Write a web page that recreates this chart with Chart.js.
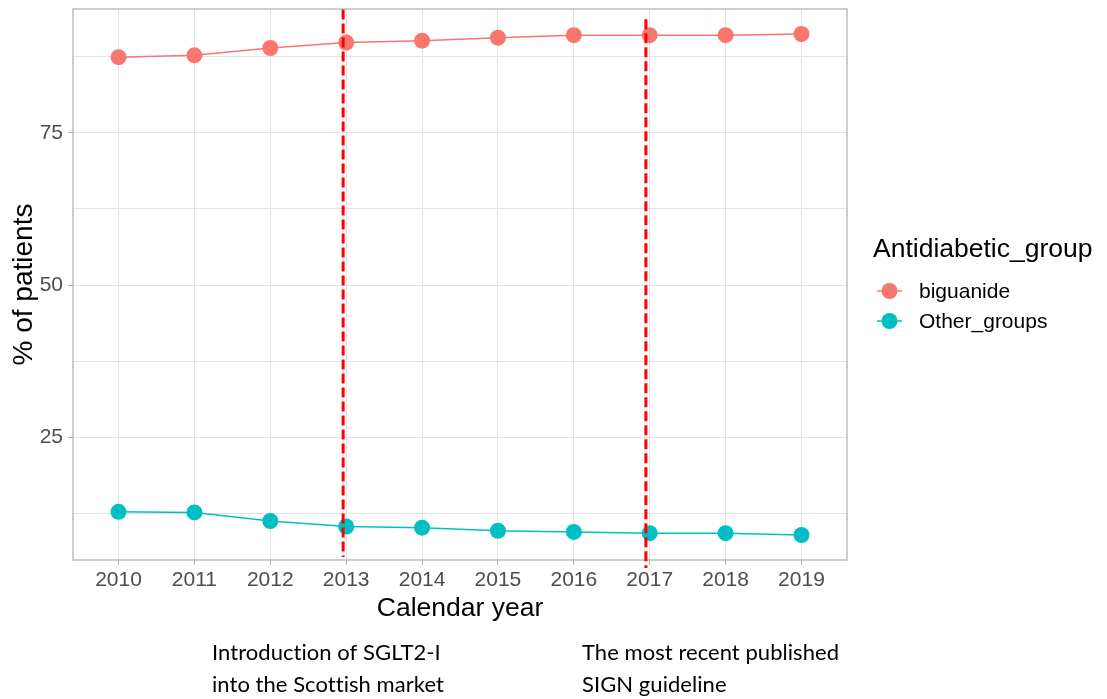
<!DOCTYPE html>
<html>
<head>
<meta charset="utf-8">
<script src="https://cdn.jsdelivr.net/npm/chart.js@4.4.1/dist/chart.umd.min.js"></script>
<style>
  html, body { margin: 0; padding: 0; background: #ffffff; }
  canvas { display: block; }
</style>
</head>
<body>
<canvas id="chart" width="1107" height="699"></canvas>
<script>
// Share of patients per antidiabetic group, by calendar year
const years = [2010, 2011, 2012, 2013, 2014, 2015, 2016, 2017, 2018, 2019];
const biguanide = [87.4, 87.7, 88.9, 89.8, 90.1, 90.6, 91.0, 91.0, 91.0, 91.2];
const otherGroups = [12.8, 12.7, 11.3, 10.4, 10.2, 9.7, 9.5, 9.3, 9.3, 9.0];

const groupNames = ["biguanide", "Other_groups"];
const groupColors = ["#F8766D", "#00BFC4"];

const xTickLabels = ["2010", "2011", "2012", "2013", "2014", "2015", "2016", "2017", "2018", "2019"];
const yTickLabels = ["25", "50", "75"];
const yMajorTicks = [25, 50, 75];
const yMinorTicks = [12.5, 37.5, 62.5, 87.5];

// Dashed reference lines for policy events (x position, vertical extent in % units)
const eventYears = [2012.96, 2016.95];
const eventTop = [95.2, 93.6];
const eventBottom = [5.4, 3.6];

const noteLines = [
  ["Introduction of SGLT2-I", "into the Scottish market"],
  ["The most recent published", "SIGN guideline"]
];

const FONT = "'Liberation Sans', Arial, Helvetica, sans-serif";

const panelBox = {
  id: "panelBox",
  afterDatasetsDraw(chart) {
    const { ctx, chartArea: a } = chart;
    ctx.save();
    ctx.strokeStyle = "#b3b3b3";
    ctx.lineWidth = 1.3;
    ctx.strokeRect(a.left, a.top, a.right - a.left, a.bottom - a.top);
    ctx.restore();
  }
};

const eventLines = {
  id: "eventLines",
  afterDraw(chart) {
    const { ctx, scales: { x, y } } = chart;
    ctx.save();
    ctx.strokeStyle = "#ff0000";
    ctx.lineWidth = 3;
    ctx.setLineDash([10, 4]);
    eventYears.forEach((yr, i) => {
      const px = x.getPixelForValue(yr);
      ctx.beginPath();
      ctx.moveTo(px, y.getPixelForValue(eventTop[i]));
      ctx.lineTo(px, y.getPixelForValue(eventBottom[i]));
      ctx.stroke();
    });
    ctx.restore();
  }
};

const groupLegend = {
  id: "groupLegend",
  afterDraw(chart) {
    const { ctx } = chart;
    ctx.save();
    ctx.fillStyle = "#000000";
    ctx.textBaseline = "alphabetic";
    ctx.textAlign = "left";
    ctx.font = "26.5px " + FONT;
    ctx.fillText("Antidiabetic_group", 873, 257);
    const rowY = [291, 321];
    groupNames.forEach((name, i) => {
      const cy = rowY[i];
      ctx.strokeStyle = groupColors[i];
      ctx.lineWidth = 1.5;
      ctx.beginPath();
      ctx.moveTo(877, cy);
      ctx.lineTo(902, cy);
      ctx.stroke();
      ctx.fillStyle = groupColors[i];
      ctx.beginPath();
      ctx.arc(889.5, cy, 8, 0, Math.PI * 2);
      ctx.fill();
      ctx.fillStyle = "#000000";
      ctx.font = "21px " + FONT;
      ctx.textBaseline = "middle";
      ctx.fillText(name, 919, cy + 1);
    });
    ctx.restore();
  }
};

const notes = {
  id: "notes",
  afterDraw(chart) {
    const { ctx } = chart;
    ctx.save();
    ctx.fillStyle = "#000000";
    ctx.font = "22px Lato, 'Open Sans', sans-serif";
    ctx.letterSpacing = "0.05px";
    ctx.textBaseline = "alphabetic";
    ctx.textAlign = "left";
    const noteX = [212, 582];
    const lineY = [660, 692];
    noteLines.forEach((lines, i) => {
      lines.forEach((t, j) => ctx.fillText(t, noteX[i], lineY[j]));
    });
    ctx.restore();
  }
};

const makeSeries = vals => years.map((yr, i) => ({ x: yr, y: vals[i] }));

new Chart(document.getElementById("chart"), {
  type: "line",
  data: {
    datasets: [
      {
        label: groupNames[0],
        data: makeSeries(biguanide),
        borderColor: groupColors[0],
        backgroundColor: groupColors[0],
        pointBackgroundColor: groupColors[0],
        pointBorderWidth: 0,
        pointRadius: 8,
        borderWidth: 1.5,
        tension: 0,
        fill: false
      },
      {
        label: groupNames[1],
        data: makeSeries(otherGroups),
        borderColor: groupColors[1],
        backgroundColor: groupColors[1],
        pointBackgroundColor: groupColors[1],
        pointBorderWidth: 0,
        pointRadius: 8,
        borderWidth: 1.5,
        tension: 0,
        fill: false
      }
    ]
  },
  options: {
    responsive: false,
    animation: false,
    devicePixelRatio: 1,
    layout: { padding: { left: 0, top: 9, right: 260, bottom: 0 } },
    plugins: {
      legend: { display: false },
      tooltip: { enabled: false }
    },
    scales: {
      x: {
        type: "linear",
        min: 2009.4,
        max: 2019.6,
        afterBuildTicks: s => { s.ticks = years.map(v => ({ value: v })); },
        afterFit: s => { s.height = 139; s.paddingLeft = 0; s.paddingRight = 0; },
        ticks: {
          callback: (v, i) => xTickLabels[i],
          color: "#4d4d4d",
          font: { family: FONT, size: 21 },
          padding: 3,
          maxRotation: 0,
          autoSkip: false
        },
        grid: {
          color: "#e2e2e2",
          lineWidth: 1,
          tickLength: 5,
          tickColor: "#b3b3b3"
        },
        border: { display: false },
        title: {
          display: true,
          text: "Calendar year",
          color: "#000000",
          font: { family: FONT, size: 26.5 },
          padding: { top: 0, bottom: 74 }
        }
      },
      y: {
        type: "linear",
        min: 4.9,
        max: 95.3,
        afterBuildTicks: s => {
          s.ticks = yMinorTicks.concat(yMajorTicks).sort((a, b) => a - b).map(v => ({ value: v }));
        },
        afterFit: s => { s.width = 73; s.paddingTop = 0; s.paddingBottom = 0; },
        ticks: {
          callback: (v, i, t) => {
            const k = yMajorTicks.indexOf(t[i].value);
            return k >= 0 ? yTickLabels[k] : "";
          },
          color: "#4d4d4d",
          font: { family: FONT, size: 21 },
          padding: 5,
          autoSkip: false
        },
        grid: {
          color: "#e2e2e2",
          lineWidth: 1,
          tickLength: 5,
          tickColor: ctx => (ctx.tick && yMajorTicks.includes(ctx.tick.value)) ? "#b3b3b3" : "rgba(0,0,0,0)"
        },
        border: { display: false },
        title: {
          display: true,
          text: "% of patients",
          color: "#000000",
          font: { family: FONT, size: 28 },
          padding: { top: 7, bottom: 0 }
        }
      }
    }
  },
  plugins: [panelBox, eventLines, groupLegend, notes]
});
</script>
</body>
</html>
